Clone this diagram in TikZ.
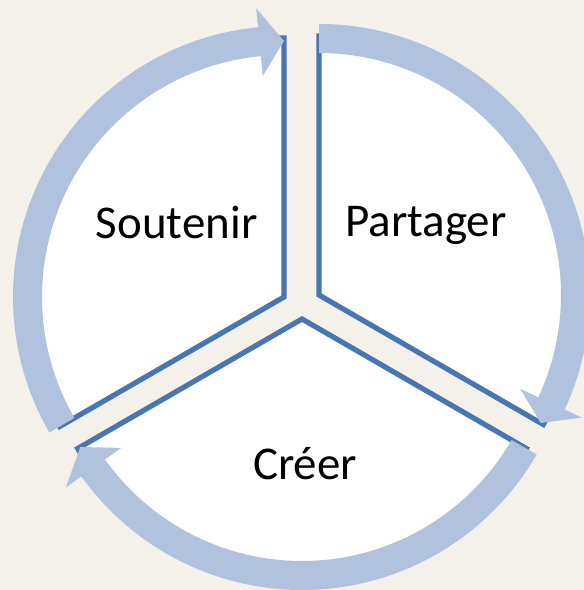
\documentclass[tikz,border=0pt]{standalone}
\usepackage{fontspec}
\setmainfont{Carlito}
\usetikzlibrary{calc}
\definecolor{pagebg}{RGB}{244,241,235}
\definecolor{segline}{RGB}{72,118,176}
\definecolor{arrowblue}{RGB}{176,194,221}
\tikzset{
  segment/.style={fill=white, draw=segline, line width=5.2pt},
  cyclearrow/.style={fill=arrowblue},
  seglabel/.style={anchor=base, inner sep=0pt, font=\fontsize{47}{56}\selectfont}
}
\newcommand{\cycarrow}[4]{%
  \fill[cyclearrow] ($(#1)+(#2:271pt)$) arc[start angle=#2, end angle=#3, radius=271pt]
    -- ($(#1)+(#3:290pt)$) -- ($(#1)+(#4:256pt)$) -- ($(#1)+(#3:222pt)$)
    -- ($(#1)+(#3:242pt)$) arc[start angle=#3, end angle=#2, radius=242pt] -- cycle;}
\begin{document}
\begin{tikzpicture}[x=1pt,y=1pt]
\fill[pagebg] (0,0) rectangle (584,590);
\useasboundingbox (0,0) rectangle (584,590);
\coordinate (sApex) at (284,293);
\coordinate (pApex) at (319,295);
\coordinate (cApex) at (302,271);
\filldraw[segment] (sApex) -- ++(90:259pt) arc[start angle=90, end angle=210, radius=259pt] -- cycle;
\filldraw[segment] (pApex) -- ++(90:259pt) arc[start angle=90, end angle=-30, radius=259pt] -- cycle;
\filldraw[segment] (cApex) -- ++(-30:259pt) arc[start angle=-30, end angle=-150, radius=259pt] -- cycle;
\cycarrow{sApex}{210}{95.5}{90}
\cycarrow{pApex}{90}{-25}{-30}
\cycarrow{cApex}{-30}{-144.5}{-150}
\node[seglabel] (soutenir) at (176.7,351) {Soutenir};
\node[seglabel] (partager) at (425.9,353) {Partager};
\node[seglabel] (creer) at (305,110.5) {Créer};
\end{tikzpicture}
\end{document}
